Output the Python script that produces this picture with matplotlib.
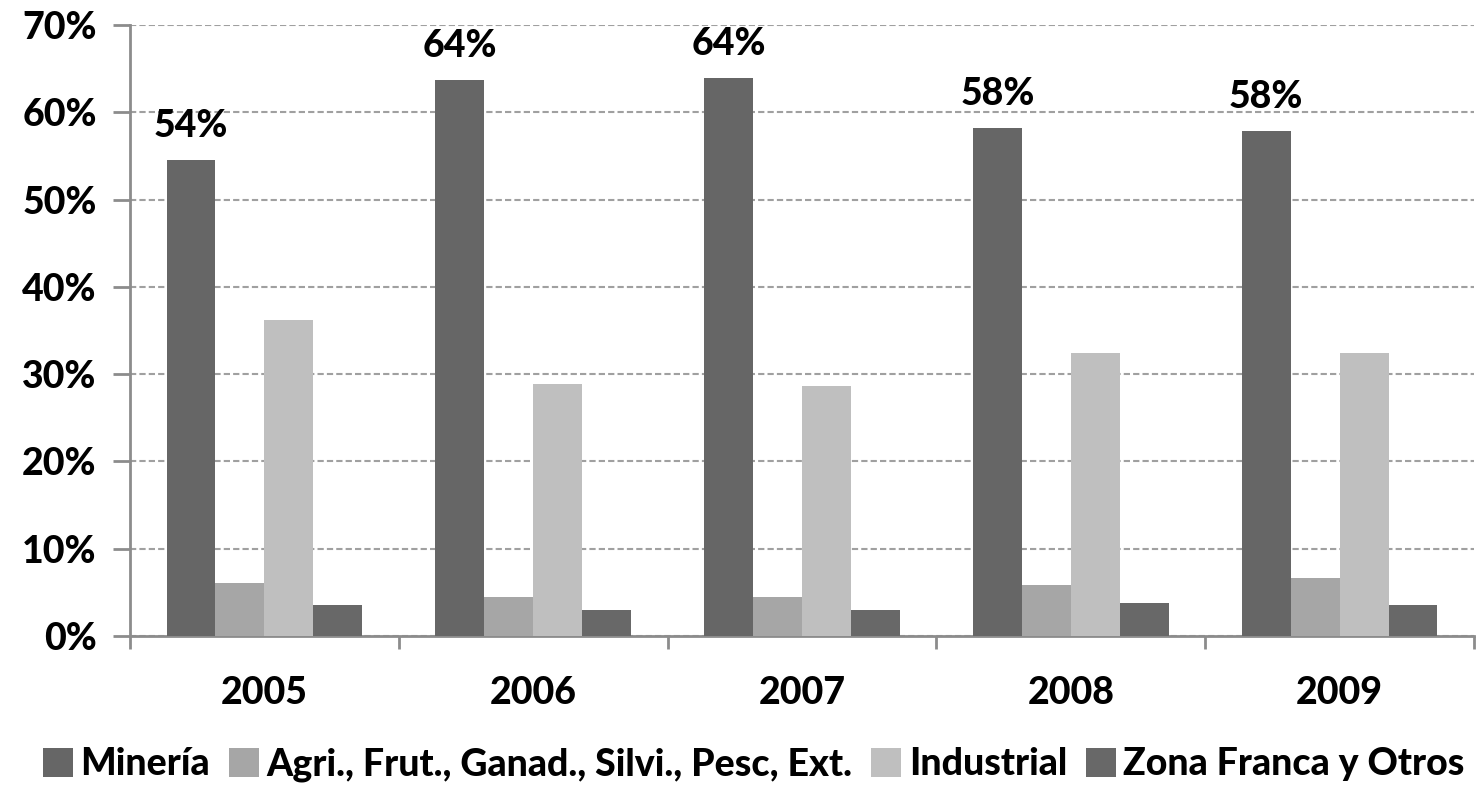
import numpy as np
import matplotlib.pyplot as plt
from matplotlib.ticker import FixedLocator

plt.rcParams['font.family'] = ['Lato', 'DejaVu Sans']
plt.rcParams['font.weight'] = 'black'

# datos
years = ['2005', '2006', '2007', '2008', '2009']
mineria = [54.5, 63.7, 63.9, 58.2, 57.8]
agri = [6.1, 4.5, 4.5, 5.8, 6.6]
industrial = [36.2, 28.9, 28.6, 32.4, 32.4]
zona = [3.5, 3.0, 3.0, 3.8, 3.5]
mineria_labels = ['54%', '64%', '64%', '58%', '58%']

series = [
    ('Minería', mineria, '#666666'),
    ('Agri., Frut., Ganad., Silvi., Pesc, Ext.', agri, '#a6a6a6'),
    ('Industrial', industrial, '#bfbfbf'),
    ('Zona Franca y Otros', zona, '#686868'),
]

fig = plt.figure(figsize=(14.84, 7.88), dpi=100)
ax = fig.add_axes([0.0876, 0.1929, 0.9057, 0.7754])

x = np.arange(len(years))
w = 0.182
for i, (name, vals, col) in enumerate(series):
    bars = ax.bar(x + (i - 1.5) * w, vals, w, color=col, label=name, zorder=3)
    if i == 0:
        for b, lab in zip(bars, mineria_labels):
            ax.text(b.get_x() + b.get_width() / 2, b.get_height() + 2.0, lab,
                    ha='center', va='bottom', fontsize=27, fontweight='black')

ax.set_xlim(-0.5, 4.5)
ax.set_ylim(0, 70)
ax.set_yticks(np.arange(0, 71, 10))
ax.set_yticklabels([f'{v}%' for v in range(0, 71, 10)], fontsize=27, fontweight='black')
ax.set_xticks(x)
ax.set_xticklabels(years, fontsize=27, fontweight='black')
ax.xaxis.set_minor_locator(FixedLocator(np.arange(-0.5, 4.6, 1)))
ax.tick_params(axis='x', which='major', length=0, pad=29)
ax.tick_params(axis='x', which='minor', length=9, width=2, color='#8c8c8c', direction='out')
ax.tick_params(axis='y', length=12, width=2, color='#8c8c8c', pad=12)

ax.yaxis.grid(True, linestyle=(0, (3, 1.5)), color='#a0a0a0', linewidth=1.5, zorder=0)
for s in ['top', 'right']:
    ax.spines[s].set_visible(False)
for s in ['left', 'bottom']:
    ax.spines[s].set_color('#8c8c8c')
    ax.spines[s].set_linewidth(2)

fig.legend(loc='lower center', bbox_to_anchor=(0.508, -0.035), ncol=4, frameon=False,
           handlelength=0.8, handleheight=0.8, handletextpad=0.2,
           columnspacing=0.5, prop={'weight': 'black', 'size': 27})

fig.savefig('out.png', dpi=100)
